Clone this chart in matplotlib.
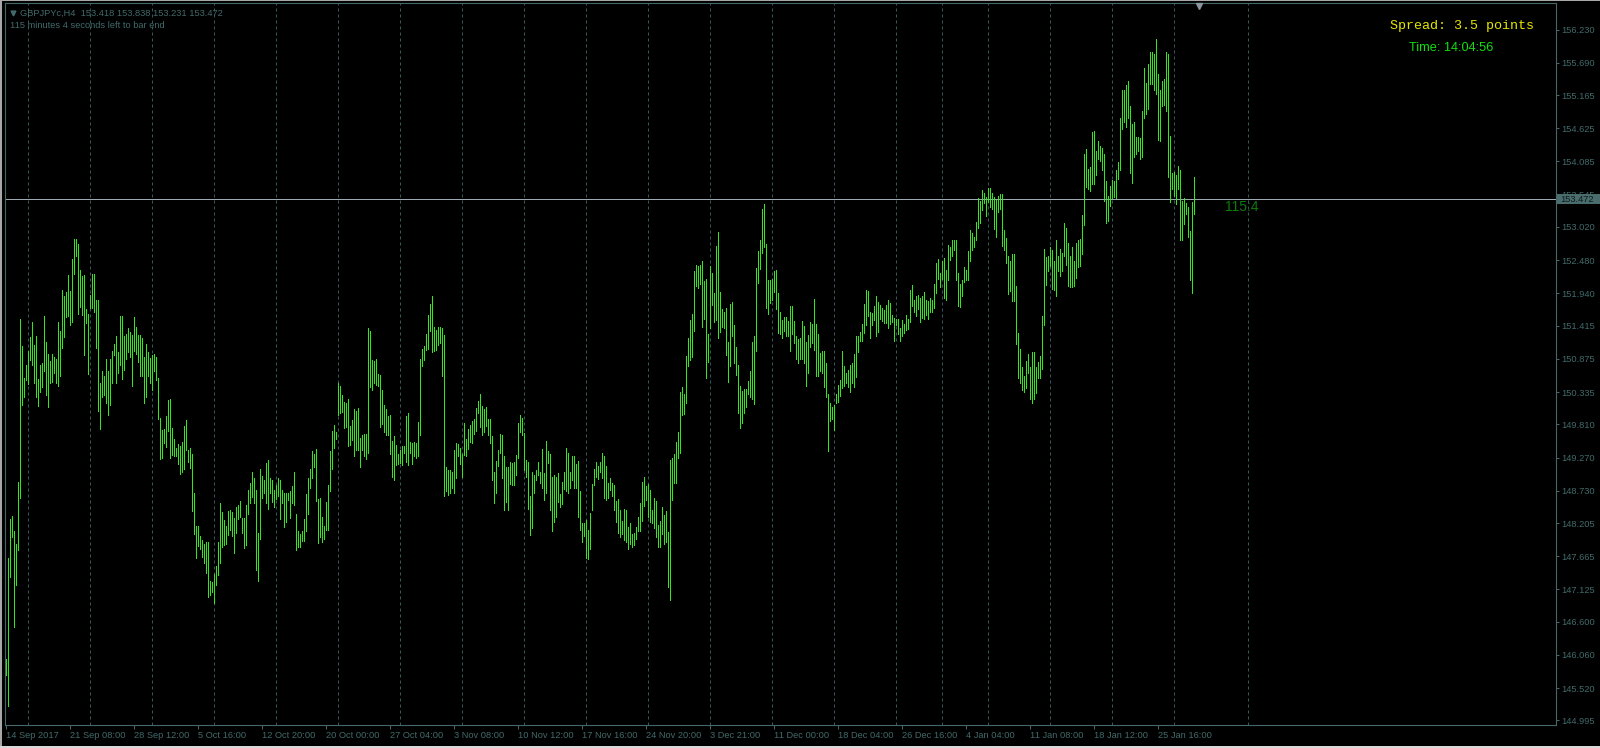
import matplotlib
matplotlib.use("Agg")
import matplotlib.pyplot as plt
from matplotlib.patches import Rectangle
from matplotlib.lines import Line2D

# ---------------- data ----------------
symbol = "GBPJPYc,H4"
last_ohlc = [153.418, 153.838, 153.231, 153.472]
current_price = 153.472
spread_text = "Spread: 3.5 points"
clock_text = "Time: 14:04:56"
time_left_text = "115 minutes 4 seconds left to bar end"
countdown_text = "115:4"

highs = [
    145.99, 147.63, 148.27, 148.32, 148.07, 147.86, 148.87, 151.52, 151.08, 150.57,
    150.77, 151.00, 151.23, 151.47, 151.10, 151.25, 150.55, 150.77, 150.80, 151.57,
    151.15, 150.96, 150.84, 150.95, 150.91, 150.88, 151.48, 151.33, 151.99, 151.90,
    151.96, 152.24, 151.98, 152.50, 152.82, 152.83, 152.74, 152.32, 152.22, 152.24,
    151.68, 151.60, 151.91, 152.26, 152.26, 151.84, 151.83, 150.49, 150.68, 150.60,
    150.88, 150.68, 150.88, 151.00, 151.11, 151.25, 150.98, 151.57, 151.58, 151.25,
    151.28, 151.37, 151.31, 151.26, 151.55, 151.39, 151.26, 151.26, 151.22, 150.90,
    151.12, 150.98, 150.89, 150.94, 150.95, 150.91, 150.57, 149.92, 149.72, 149.73,
    149.95, 150.21, 150.22, 149.75, 149.57, 149.43, 149.49, 149.46, 149.53, 149.78,
    149.88, 149.40, 149.42, 149.33, 148.70, 148.16, 148.16, 147.99, 147.93, 147.87,
    147.90, 147.89, 147.26, 147.24, 147.38, 147.51, 147.89, 148.53, 148.39, 148.25,
    148.16, 148.40, 148.41, 148.38, 148.28, 148.47, 148.50, 148.56, 148.28, 148.29,
    148.50, 148.74, 148.85, 149.03, 148.94, 148.75, 148.04, 149.09, 148.97, 148.90,
    149.18, 149.23, 148.93, 148.90, 148.75, 148.82, 148.94, 148.90, 148.74, 148.70,
    148.69, 148.69, 148.73, 148.80, 149.03, 148.36, 148.08, 148.03,
    148.08, 148.27, 148.68, 148.94, 149.09, 149.38, 149.33, 149.41, 148.60, 148.62,
    148.31, 148.16, 148.55, 148.82, 149.38, 149.70, 149.80, 149.69, 150.49, 150.43,
    150.29, 150.17, 150.15, 150.23, 149.78, 149.88, 150.06, 150.03, 150.08, 149.59,
    149.64, 149.66, 149.65, 151.37, 151.33, 150.86, 150.84, 150.87, 150.63, 150.61,
    150.37, 150.13, 150.06, 149.94, 149.96, 149.54, 149.62, 149.48, 149.33, 149.39,
    149.46, 149.45, 149.94, 149.99, 149.53, 149.50, 149.52, 149.50, 149.85, 150.87,
    151.04, 151.09, 151.28, 151.59, 151.77, 151.90, 151.40, 151.35, 151.39, 151.40,
    151.38, 151.27, 149.11, 149.06, 149.07, 149.03, 149.39, 149.50, 149.49, 149.42,
    149.33, 149.83, 149.58, 149.73, 149.80, 149.87, 149.90, 150.07, 150.19, 150.30,
    150.11, 150.06, 150.09, 149.90, 149.89, 149.62, 149.04, 149.21, 149.39, 149.66,
    149.64, 149.29, 149.12, 149.12, 149.20, 149.18, 149.19, 149.31, 149.84, 149.96,
    149.92, 149.67, 149.23, 149.20, 148.65, 149.03, 148.98, 149.06, 149.20, 149.03,
    149.41, 149.02, 149.54, 149.37, 149.32, 148.96, 148.99, 148.96, 149.02, 148.68,
    148.88, 149.04, 149.42, 149.35, 149.04, 149.29, 149.29, 149.16, 149.21, 148.73,
    148.21, 148.21, 148.26, 148.10, 148.37, 148.84, 149.08, 149.19, 149.13, 149.19,
    149.34, 149.30, 149.13, 148.86, 148.93, 148.85, 148.82, 148.56, 148.59, 148.42,
    148.24, 148.44, 148.42, 148.14, 148.20, 148.02, 148.05, 148.14, 148.30, 148.53,
    148.87, 148.95, 148.80, 148.84, 148.75, 148.42, 148.61, 148.56, 148.18, 148.24,
    148.47, 148.34, 148.40, 148.06, 149.23, 149.26, 149.33, 149.52, 149.69, 150.33,
    150.41, 150.31, 150.92, 151.21, 151.51, 151.60, 152.31, 152.40, 152.39, 152.40,
    152.47, 152.14, 152.18, 151.28, 152.39, 152.27, 151.94, 152.71, 152.94, 151.97,
    151.69, 151.63, 151.70, 151.15, 151.77, 151.80, 151.43, 151.06, 150.78, 150.43,
    150.36, 150.38, 150.38, 150.52, 150.67, 151.15, 151.25, 152.36, 152.63, 152.80,
    153.31, 153.39, 152.75, 152.16, 152.15, 152.17, 152.30, 152.32, 151.95, 151.64,
    151.50, 151.55, 151.56, 151.49, 151.73, 151.73, 151.49, 151.25, 151.19, 151.21,
    151.49, 151.41, 151.15, 151.26, 151.48, 151.45, 151.85, 151.44, 151.28, 150.97,
    151.00, 151.00, 150.81, 150.30, 150.15, 150.09, 150.12, 150.30, 150.45, 150.53,
    151.00, 150.76, 150.65, 150.69, 150.78, 150.81, 150.95, 151.25, 151.25, 151.31,
    151.45, 151.77, 151.99, 151.98, 151.63, 151.62, 151.73, 151.90, 151.80, 151.75,
    151.71, 151.67, 151.75, 151.83, 151.78, 151.59, 151.54, 151.53, 151.52, 151.37,
    151.50, 151.44, 151.59, 151.52, 151.99, 152.08, 151.84, 151.89, 151.91, 151.87,
    151.90, 151.97, 151.84, 151.81, 151.87, 151.83, 152.09, 152.44, 152.50, 152.27,
    152.47, 152.52, 152.32, 152.73, 152.70, 152.80, 152.81, 152.81, 152.27, 152.09,
    152.16, 152.37, 152.32, 152.63, 152.97, 152.93, 152.86, 153.10, 153.49, 153.45,
    153.62, 153.58, 153.51, 153.66, 153.65, 153.57, 153.50, 153.46, 153.52, 153.56,
    153.55, 152.97, 152.84, 152.55, 152.46, 152.58, 152.58, 152.06, 151.30, 151.03,
    150.74, 150.59, 150.84, 150.96, 150.74, 150.99, 150.98, 150.74, 150.83, 150.92,
    151.57, 152.66, 152.53, 152.54, 152.70, 152.65, 152.47, 152.80, 152.55, 152.66,
    152.60, 153.09, 153.00, 152.76, 152.54, 152.70, 152.47, 152.76, 152.80, 152.83,
    153.22, 154.21, 154.28, 153.97, 154.00, 154.57, 154.58, 154.26, 154.42, 154.34,
    154.30, 154.21, 153.76, 153.52, 153.68, 153.79, 153.76, 153.95, 154.08, 154.80,
    155.25, 155.25, 155.33, 155.39, 154.99, 154.70, 154.73, 154.49, 154.48, 154.46,
    154.91, 155.61, 155.36, 155.67, 155.86, 155.86, 155.83, 156.08, 155.51, 155.25,
    155.40, 155.43, 155.86, 155.83, 154.50, 153.89, 153.91, 153.86, 154.01, 153.95,
    153.45, 153.49, 153.41, 153.35, 152.96, 153.42, 153.838,
]

lows = [
    145.73, 145.23, 147.32, 147.98, 146.52, 147.20, 147.77, 148.61, 150.12, 150.26,
    150.53, 150.47, 150.86, 150.77, 150.49, 150.25, 150.11, 150.33, 150.42, 150.68,
    150.28, 150.10, 150.48, 150.50, 150.64, 150.48, 150.44, 150.60, 151.05, 151.23,
    151.55, 151.57, 151.43, 151.48, 152.26, 152.55, 151.60, 151.72, 151.59, 150.93,
    151.46, 150.63, 151.71, 151.71, 151.63, 151.05, 150.03, 149.73, 150.26, 150.29,
    150.16, 149.97, 150.13, 150.48, 150.94, 150.49, 150.64, 150.77, 150.55, 150.69,
    150.87, 150.98, 150.90, 150.44, 151.00, 150.95, 150.83, 150.60, 150.60, 150.16,
    150.26, 150.60, 150.48, 150.37, 150.67, 150.53, 149.90, 149.24, 149.26, 149.50,
    149.44, 149.71, 149.26, 149.31, 149.30, 149.30, 149.17, 149.00, 149.04, 149.08,
    149.40, 149.20, 149.10, 148.40, 148.02, 147.64, 147.83, 147.79, 147.65, 147.55,
    147.39, 147.01, 147.04, 147.09, 146.91, 147.19, 147.36, 147.56, 147.82, 147.85,
    147.87, 148.01, 148.09, 147.99, 147.71, 148.05, 148.27, 148.31, 148.04, 147.80,
    147.85, 148.36, 148.53, 148.63, 148.53, 147.44, 147.27, 147.95, 148.61, 148.69,
    148.53, 148.43, 148.69, 148.55, 148.47, 148.59, 148.65, 148.27, 148.53, 148.14,
    148.23, 148.58, 148.29, 148.53, 148.50, 147.77, 147.82, 147.82,
    147.92, 147.92, 148.08, 148.35, 148.78, 148.94, 149.12, 148.57, 147.88, 147.98,
    147.90, 147.94, 148.09, 148.09, 148.72, 149.09, 149.43, 149.57, 149.97, 149.99,
    150.01, 149.75, 149.77, 149.45, 149.48, 149.56, 149.30, 149.39, 149.39, 149.11,
    149.39, 149.30, 149.25, 149.34, 150.42, 150.37, 150.48, 150.45, 150.43, 149.76,
    149.81, 149.69, 149.63, 149.63, 149.33, 148.96, 148.90, 149.15, 149.16, 149.18,
    149.15, 149.34, 149.19, 149.15, 149.34, 149.16, 149.29, 149.27, 149.29, 149.64,
    150.76, 150.86, 151.02, 151.03, 151.33, 150.98, 151.00, 151.02, 151.10, 151.13,
    150.59, 148.64, 148.73, 148.66, 148.69, 148.77, 148.69, 148.94, 149.30, 149.16,
    148.96, 149.31, 149.30, 149.41, 149.52, 149.51, 149.65, 149.71, 149.99, 149.76,
    149.64, 149.69, 149.79, 149.64, 149.50, 148.91, 148.53, 148.70, 149.14, 149.34,
    148.93, 148.42, 148.55, 148.42, 148.84, 148.83, 148.83, 148.99, 149.26, 149.69,
    149.64, 149.07, 148.96, 148.43, 148.01, 148.13, 148.69, 148.90, 148.99, 148.85,
    148.77, 148.58, 148.70, 149.18, 148.41, 148.07, 148.22, 148.31, 148.55, 148.46,
    148.51, 148.76, 148.73, 148.69, 148.77, 148.91, 148.78, 148.77, 148.31, 148.09,
    147.90, 147.99, 147.63, 147.62, 147.78, 148.41, 148.83, 148.96, 148.92, 149.04,
    148.93, 148.61, 148.58, 148.62, 148.74, 148.64, 148.42, 148.23, 148.05, 147.98,
    148.03, 147.93, 147.90, 147.78, 147.87, 147.81, 147.85, 147.94, 148.07, 148.08,
    148.24, 148.49, 148.58, 148.31, 148.23, 148.20, 148.13, 147.98, 147.81, 147.81,
    148.03, 147.86, 147.90, 147.17, 146.95, 148.58, 148.86, 148.86, 149.26, 149.34,
    149.96, 149.98, 150.15, 150.76, 150.85, 150.91, 151.33, 152.06, 152.02, 152.09,
    151.40, 151.52, 150.56, 150.83, 151.37, 151.75, 151.48, 151.50, 151.21, 151.32,
    151.39, 151.37, 150.94, 150.50, 150.76, 151.24, 150.80, 150.61, 149.99, 149.75,
    149.83, 150.00, 150.10, 150.30, 150.25, 150.23, 150.14, 151.01, 152.11, 152.33,
    152.60, 152.69, 151.71, 151.61, 151.78, 151.84, 151.97, 151.68, 151.30, 151.28,
    151.21, 151.33, 151.24, 151.25, 151.01, 151.28, 151.13, 150.87, 150.80, 150.87,
    150.88, 150.80, 150.43, 150.65, 151.07, 151.13, 151.02, 150.60, 150.60, 150.67,
    150.65, 150.41, 150.26, 149.38, 149.87, 149.89, 149.72, 150.15, 150.18, 150.27,
    150.40, 150.43, 150.49, 150.41, 150.34, 150.48, 150.41, 150.58, 150.98, 151.16,
    151.16, 151.30, 151.43, 151.57, 151.21, 151.43, 151.50, 151.25, 151.32, 151.53,
    151.49, 151.46, 151.46, 151.37, 151.45, 151.48, 151.16, 151.43, 151.28, 151.17,
    151.25, 151.29, 151.35, 151.36, 151.47, 151.74, 151.63, 151.58, 151.69, 151.47,
    151.54, 151.52, 151.59, 151.52, 151.64, 151.64, 151.71, 151.95, 152.17, 152.05,
    152.17, 151.87, 151.84, 152.16, 152.48, 152.54, 152.65, 152.16, 151.74, 151.72,
    151.89, 152.13, 152.16, 152.16, 152.46, 152.65, 152.69, 152.80, 153.01, 153.09,
    153.30, 153.41, 153.20, 153.42, 153.34, 153.32, 152.98, 152.86, 153.27, 153.31,
    152.71, 152.65, 152.44, 151.93, 151.98, 151.81, 151.81, 151.12, 150.56, 150.49,
    150.37, 150.33, 150.40, 150.65, 150.22, 150.16, 150.23, 150.32, 150.57, 150.57,
    150.71, 151.42, 152.08, 152.31, 152.39, 152.01, 152.00, 151.90, 152.31, 152.22,
    152.31, 152.55, 152.40, 152.06, 152.04, 152.05, 152.06, 152.19, 152.37, 152.38,
    152.58, 153.05, 153.67, 153.63, 153.61, 153.72, 153.72, 153.87, 154.12, 154.10,
    153.94, 153.45, 153.09, 153.12, 153.36, 153.49, 153.51, 153.49, 153.80, 153.94,
    154.61, 154.72, 154.65, 154.80, 153.90, 153.73, 154.15, 154.21, 154.26, 154.12,
    154.16, 154.79, 154.85, 154.94, 155.35, 155.35, 155.24, 155.18, 154.44, 154.41,
    154.99, 155.00, 154.91, 153.84, 153.42, 153.63, 153.52, 153.39, 153.63, 152.80,
    152.80, 153.07, 153.23, 152.86, 152.15, 151.95, 153.231,
]
assert len(highs) == len(lows)
bar_index = list(range(len(highs)))

price_ticks = [156.230, 155.690, 155.165, 154.625, 154.085, 153.545, 153.020,
               152.480, 151.940, 151.415, 150.875, 150.335, 149.810, 149.270,
               148.730, 148.205, 147.665, 147.125, 146.600, 146.060, 145.520,
               144.995]
time_labels = ["14 Sep 2017", "21 Sep 08:00", "28 Sep 12:00", "5 Oct 16:00",
               "12 Oct 20:00", "20 Oct 00:00", "27 Oct 04:00", "3 Nov 08:00",
               "10 Nov 12:00", "17 Nov 16:00", "24 Nov 20:00", "3 Dec 21:00",
               "11 Dec 00:00", "18 Dec 04:00", "26 Dec 16:00", "4 Jan 04:00",
               "11 Jan 08:00", "18 Jan 12:00", "25 Jan 16:00"]
time_label_bars = [0, 32, 64, 96, 128, 160, 192, 224, 256, 288, 320, 352,
                   384, 416, 448, 480, 512, 544, 576]
grid_bars = [11, 42, 73, 104, 135, 166, 197, 228, 259, 290, 321, 352, 383,
             414, 445, 468, 491, 522, 553, 584, 621]

# ---------------- style ----------------
W, H = 1600, 748
BG = "black"
BAR = "#33e61e"
FG = "#426a6a"
FRAME = "#46686a"
GRID = "#36585a"
PRICE_LINE = "#9ea8b0"
SANS = ["Liberation Sans", "DejaVu Sans"]
MONO = ["Liberation Mono", "DejaVu Sans Mono"]
FS = 6.7

fig = plt.figure(figsize=(W / 100, H / 100), dpi=100, facecolor=BG)
ax = fig.add_axes([4.5 / W, (H - 725.0) / H, 1551.0 / W, (725.0 - 2.7) / H])
ax.set_facecolor(BG)
ax.set_xlim(-0.5, 775)
ax.set_ylim(144.921, 156.667)

# grid (vertical dashed)
for g in grid_bars:
    ax.axvline(g, color=GRID, lw=0.72, ls=(0, (3, 3)), zorder=1)

# current price line
ax.axhline(current_price, color=PRICE_LINE, lw=0.72, zorder=2)

# bars (high-low), 1 px wide
ax.vlines(bar_index, lows, highs, colors=BAR, linewidth=0.72,
          antialiased=False, zorder=3)

# spines
for s in ax.spines.values():
    s.set_color(FRAME)
    s.set_linewidth(0.8)

# y axis on the right
ax.yaxis.tick_right()
ax.set_yticks(price_ticks)
ax.set_yticklabels([f"{v:.3f}" for v in price_ticks])
ax.tick_params(axis="y", direction="out", length=2.2, width=0.72,
               color=FRAME, labelcolor=FG, labelsize=FS, pad=1.8)
for t in ax.get_yticklabels():
    t.set_fontfamily(SANS)

# x axis
ax.set_xticks(time_label_bars)
ax.set_xticklabels(time_labels)
ax.tick_params(axis="x", direction="out", length=3.0, width=0.72,
               color=FRAME, labelcolor=FG, labelsize=FS, pad=1.2)
for t in ax.get_xticklabels():
    t.set_horizontalalignment("left")
    t.set_fontfamily(SANS)

# countdown text near the last bar
ax.text(610, 153.345, countdown_text, color="#0b7d0b", fontsize=10,
        family=SANS, ha="left", va="center", zorder=4)

# ---------------- figure-level annotations ----------------
def fx(px):
    return px / W

def fy(py):
    return (H - py) / H

# header
fig.add_artist(Line2D([fx(12.5)], [fy(12.5)], marker="v", markersize=3.5,
                      color=FG, transform=fig.transFigure, lw=0))
fig.text(fx(20), fy(13), symbol + "  " + " ".join(f"{v:.3f}" for v in last_ohlc),
         color=FG, fontsize=FS, family=SANS, ha="left", va="center")
fig.text(fx(10), fy(25), time_left_text, color=FG, fontsize=FS,
         family=SANS, ha="left", va="center")

# spread / time
fig.text(fx(1390), fy(25.5), spread_text, color="#e6e600", fontsize=9.6,
         family=MONO, ha="left", va="center")
fig.text(fx(1409), fy(48), clock_text, color="#11e011", fontsize=9.2,
         family=SANS, ha="left", va="center")

# chart shift marker
fig.add_artist(Line2D([fx(1199)], [fy(5.5)], marker="v", markersize=5,
                      color="#8a969e", transform=fig.transFigure, lw=0))

# current price label box on the axis (covers the neighbouring tick label, as in MT4)
ypx = 2.7 + (156.667 - current_price) / (156.667 - 144.921) * (725.0 - 2.7)
fig.add_artist(Rectangle((fx(1557), fy(ypx + 5.2)), 43 / W, 10.4 / H,
                         transform=fig.transFigure, facecolor="#4a6c6c",
                         edgecolor="none", zorder=5))
fig.text(fx(1560), fy(ypx), f"{current_price:.3f}", color="#0e1c1c",
         fontsize=FS, family=SANS, ha="left", va="center", zorder=6)

# window border
fig.add_artist(Rectangle((0, 0), 2 / W, 1, transform=fig.transFigure,
                         facecolor="#a8a8a8", edgecolor="none", zorder=7))
fig.add_artist(Rectangle((0, 1 - 1 / H), 1, 1 / H, transform=fig.transFigure,
                         facecolor="#a8a8a8", edgecolor="none", zorder=7))
fig.add_artist(Rectangle((0, 0), 1, 2 / H, transform=fig.transFigure,
                         facecolor="#d8d8d8", edgecolor="none", zorder=7))

fig.savefig("out.png", dpi=100, facecolor=BG)
